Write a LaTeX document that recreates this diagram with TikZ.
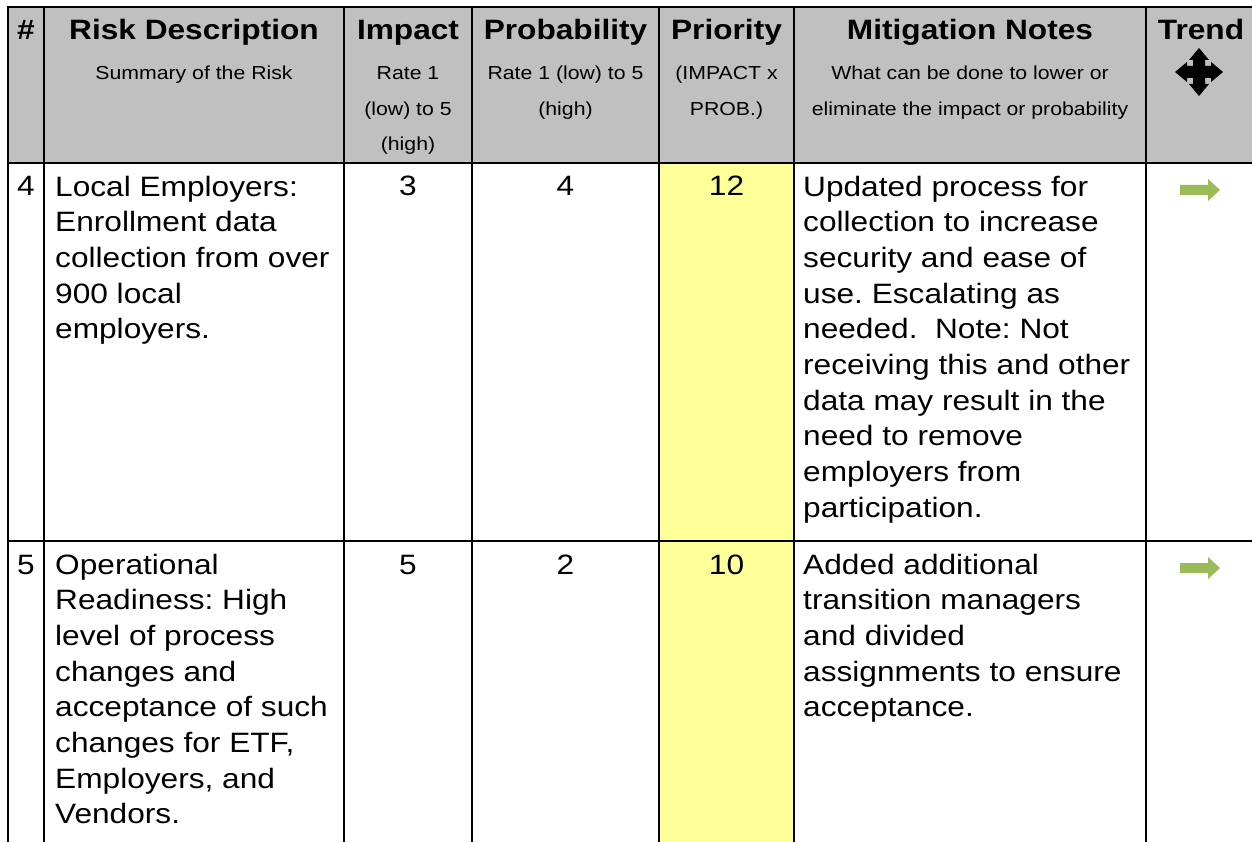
\documentclass[tikz,border=0pt]{standalone}
\usepackage{fontspec}
\setmainfont{Liberation Sans}[FakeStretch=1.13]
\definecolor{hdrgray}{HTML}{C0C0C0}
\definecolor{prioyellow}{HTML}{FFFF99}
\definecolor{arrowgreen}{HTML}{9BBB59}
\frenchspacing
\begin{document}
\begin{tikzpicture}[x=1pt,y=-1pt,
  grid/.style={line width=2.6pt, black, line cap=rect},
  title/.style={anchor=base, font=\fontsize{28}{35.7}\selectfont\bfseries, inner sep=0pt},
  sub/.style={anchor=base, align=center, font=\fontsize{18.8}{35.5}\selectfont, inner sep=0pt},
  body/.style={anchor=base west, align=left, font=\fontsize{28}{35.7}\selectfont, inner sep=0pt},
  num/.style={anchor=base, font=\fontsize{28}{35.7}\selectfont, inner sep=0pt},
  trendarrow/.style={fill=arrowgreen, draw=none},
  moveicon/.style={fill=black, draw=none}]
\useasboundingbox (0,0) rectangle (1252,842);
% fills
\fill[hdrgray] (8,7) rectangle (1252,163);
\fill[prioyellow] (659,163) rectangle (794,842);
% grid
\draw[grid] (8,7) -- (1252,7);
\draw[grid] (8,163) -- (1252,163);
\draw[grid] (8,541) -- (1252,541);
\foreach \x in {8,44,344,472,659,794,1146} {
  \draw[grid] (\x,7) -- (\x,842);
}
% header titles
\node[title] (hnum) at (26,40) {\#};
\node[title] (hrisk) at (194,40) {Risk Description};
\node[title] (himp) at (408,40) {Impact};
\node[title] (hprob) at (565.5,40) {Probability};
\node[title] (hprio) at (726.5,40) {Priority};
\node[title] (hmit) at (970,40) {Mitigation Notes};
\node[title] (htrend) at (1201,40) {Trend};
% header subtitles (anchor = baseline of last line)
\node[sub] (srisk) at (194,80) {Summary of the Risk};
\node[sub] (simp) at (408,151) {Rate 1\\(low) to 5\\(high)};
\node[sub] (sprob) at (565.5,115.5) {Rate 1 (low) to 5\\(high)};
\node[sub] (sprio) at (726.5,115.5) {(IMPACT x\\PROB.)};
\node[sub] (smit) at (970,115.5) {What can be done to lower or\\eliminate the impact or probability};
% move icon
\fill[moveicon, shift={(1199,72)}]
  (-6,-12) -- (-10,-12) -- (0,-24) -- (10,-12) -- (6,-12) -- (6,-6)
  -- (12,-6) -- (12,-10) -- (24,0) -- (12,10) -- (12,6) -- (6,6)
  -- (6,12) -- (10,12) -- (0,24) -- (-10,12) -- (-6,12) -- (-6,6)
  -- (-12,6) -- (-12,10) -- (-24,0) -- (-12,-10) -- (-12,-6) -- (-6,-6) -- cycle;
% row 4
\node[num] (n4) at (26,196) {4};
\node[body] (r4desc) at (55,338.8) {Local Employers:\\Enrollment data\\collection from over\\900 local\\employers.};
\node[num] (r4imp) at (408,196) {3};
\node[num] (r4prob) at (565.5,196) {4};
\node[num] (r4prio) at (726.5,196) {12};
\node[body] (r4mit) at (803,517.3) {Updated process for\\collection to increase\\security and ease of\\use. Escalating as\\needed.\ \ Note: Not\\receiving this and other\\data may result in the\\need to remove\\employers from\\participation.};
\fill[trendarrow, shift={(1200,190)}]
  (-20,-5) -- (8,-5) -- (8,-11) -- (20,0) -- (8,11) -- (8,5) -- (-20,5) -- cycle;
% row 5
\node[num] (n5) at (26,574) {5};
\node[body] (r5desc) at (55,823.9) {Operational\\Readiness: High\\level of process\\changes and\\acceptance of such\\changes for ETF,\\Employers, and\\Vendors.};
\node[num] (r5imp) at (408,574) {5};
\node[num] (r5prob) at (565.5,574) {2};
\node[num] (r5prio) at (726.5,574) {10};
\node[body] (r5mit) at (803,716.8) {Added additional\\transition managers\\and divided\\assignments to ensure\\acceptance.};
\fill[trendarrow, shift={(1200,568)}]
  (-20,-5) -- (8,-5) -- (8,-11) -- (20,0) -- (8,11) -- (8,5) -- (-20,5) -- cycle;
\end{tikzpicture}
\end{document}
